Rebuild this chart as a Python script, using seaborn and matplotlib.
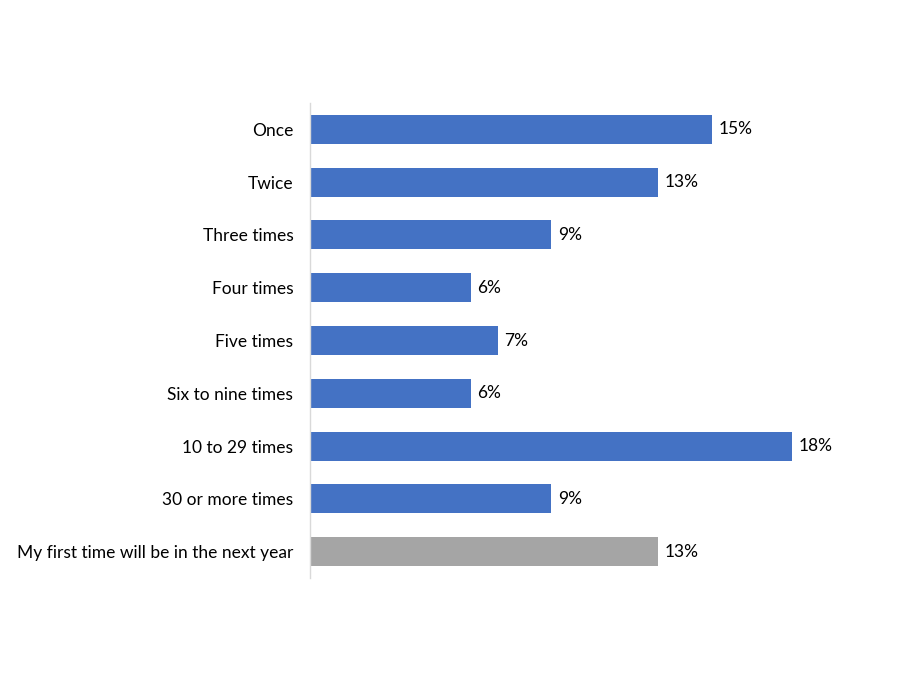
import matplotlib
matplotlib.use("Agg")
import matplotlib.pyplot as plt
import seaborn as sns
import pandas as pd

categories = ["Once", "Twice", "Three times", "Four times", "Five times",
              "Six to nine times", "10 to 29 times", "30 or more times",
              "My first time will be in the next year"]
values = [15, 13, 9, 6, 7, 6, 18, 9, 13]
colors = ["#4472C4"] * 8 + ["#A5A5A5"]

df = pd.DataFrame({"category": categories, "value": values})

sns.set_style("white")
plt.rcParams["font.family"] = ["Lato", "DejaVu Sans"]

fig = plt.figure(figsize=(9, 6.75), dpi=100)
ax = fig.add_axes([0.3444, 0.1437, 0.6, 0.7037])

sns.barplot(data=df, x="value", y="category", hue="category",
            palette=colors, legend=False, orient="h", width=0.55,
            saturation=1, linewidth=0, ax=ax)

for i, v in enumerate(values):
    ax.text(v + 0.25, i, f"{v}%", va="center", ha="left", fontsize=12.5, color="black")

ax.set_xlim(0, 20.15)
ax.set_ylim(8.5, -0.5)
ax.set_xlabel("")
ax.set_ylabel("")
ax.set_xticks([])
ax.tick_params(axis="y", length=0, labelsize=12.5, pad=12, labelcolor="black")
for s in ["top", "right", "bottom"]:
    ax.spines[s].set_visible(False)
ax.spines["left"].set_color("#d9d9d9")
ax.spines["left"].set_linewidth(1)

fig.savefig("out.png", dpi=100)
